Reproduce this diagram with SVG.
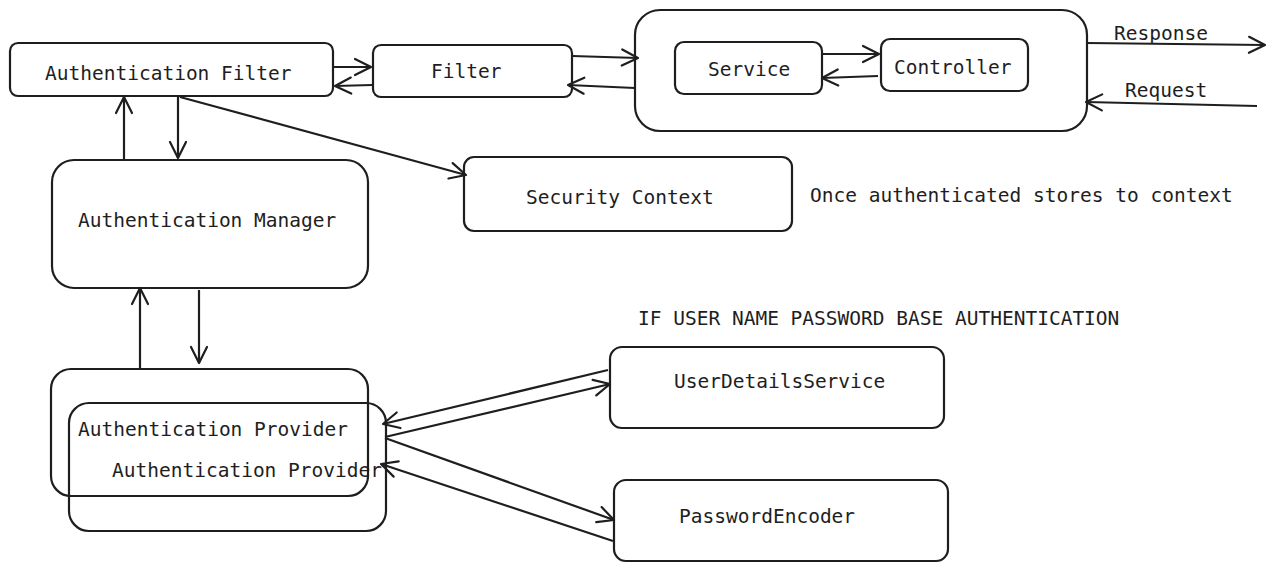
<svg xmlns="http://www.w3.org/2000/svg" width="1276" height="571" viewBox="0 0 1276 571">
<defs>
<style>
.box{fill:none;stroke:#1e1e1e;stroke-width:2.2}
.t{font-family:"DejaVu Sans Mono","Liberation Mono",monospace;font-size:19.5px;fill:#1e1e1e}
.c{fill:none;stroke:#1e1e1e;stroke-width:2.2;marker-end:url(#ah)}
</style>
<marker id="ah" viewBox="0 0 20 20" refX="18" refY="10" markerWidth="20" markerHeight="20" markerUnits="userSpaceOnUse" orient="auto">
<path d="M2,2 L18,10 L2,18" fill="none" stroke="#1e1e1e" stroke-width="2.2" stroke-linecap="round" stroke-linejoin="round"/>
</marker>
</defs>
<rect width="1276" height="571" fill="#ffffff"/>
<g id="authFilter"><rect class="box" x="10" y="43" width="323" height="53" rx="8"/><text class="t" x="45" y="80">Authentication Filter</text></g>
<g id="filter"><rect class="box" x="373" y="45" width="199" height="52" rx="8"/><text class="t" x="431" y="78">Filter</text></g>
<g id="container"><rect class="box" x="635" y="10" width="452" height="121" rx="25"/></g>
<g id="service"><rect class="box" x="675" y="42" width="147" height="52" rx="9"/><text class="t" x="708" y="76">Service</text></g>
<g id="controller"><rect class="box" x="881" y="39" width="147" height="52" rx="9"/><text class="t" x="894" y="74">Controller</text></g>
<g id="securityContext"><rect class="box" x="464" y="157" width="328" height="74" rx="10"/><text class="t" x="526" y="204">Security Context</text></g>
<g id="note1"><text class="t" x="810" y="202">Once authenticated stores to context</text></g>
<g id="authManager"><rect class="box" x="52" y="160" width="316" height="128" rx="22"/><text class="t" x="78" y="227">Authentication Manager</text></g>
<g id="note2"><text class="t" x="638" y="325">IF USER NAME PASSWORD BASE AUTHENTICATION</text></g>
<g id="authProvider1"><rect class="box" x="51" y="369" width="317" height="127" rx="20"/><text class="t" x="78" y="436">Authentication Provider</text></g>
<g id="authProvider2"><rect class="box" x="69" y="403" width="317" height="128" rx="20"/><text class="t" x="112" y="477">Authentication Provider</text></g>
<g id="userDetailsService"><rect class="box" x="610" y="347" width="334" height="81" rx="12"/><text class="t" x="674" y="388">UserDetailsService</text></g>
<g id="passwordEncoder"><rect class="box" x="614" y="480" width="334" height="81" rx="12"/><text class="t" x="679" y="523">PasswordEncoder</text></g>
<g id="labels"><text class="t" x="1114" y="40">Response</text><text class="t" x="1125" y="97">Request</text></g>
<g id="connectors">
<path class="c" d="M334,67 L371,67"/>
<path class="c" d="M372,85 L335,86"/>
<path class="c" d="M572,56 L638,58"/>
<path class="c" d="M635,88 L568,85"/>
<path class="c" d="M823,54 L879,54"/>
<path class="c" d="M878,76 L822,78"/>
<path class="c" d="M1087,43 L1265,45"/>
<path class="c" d="M1257,106 L1086,102"/>
<path class="c" d="M124,159 L124,97"/>
<path class="c" d="M178,97 L178,158"/>
<path class="c" d="M180,97 L466,175"/>
<path class="c" d="M140,368 L140,288"/>
<path class="c" d="M199,290 L199,363"/>
<path class="c" d="M608,370 L383,424"/>
<path class="c" d="M385,437 L610,384"/>
<path class="c" d="M385,438 L614,520"/>
<path class="c" d="M613,541 L381,464"/>
</g>
</svg>
